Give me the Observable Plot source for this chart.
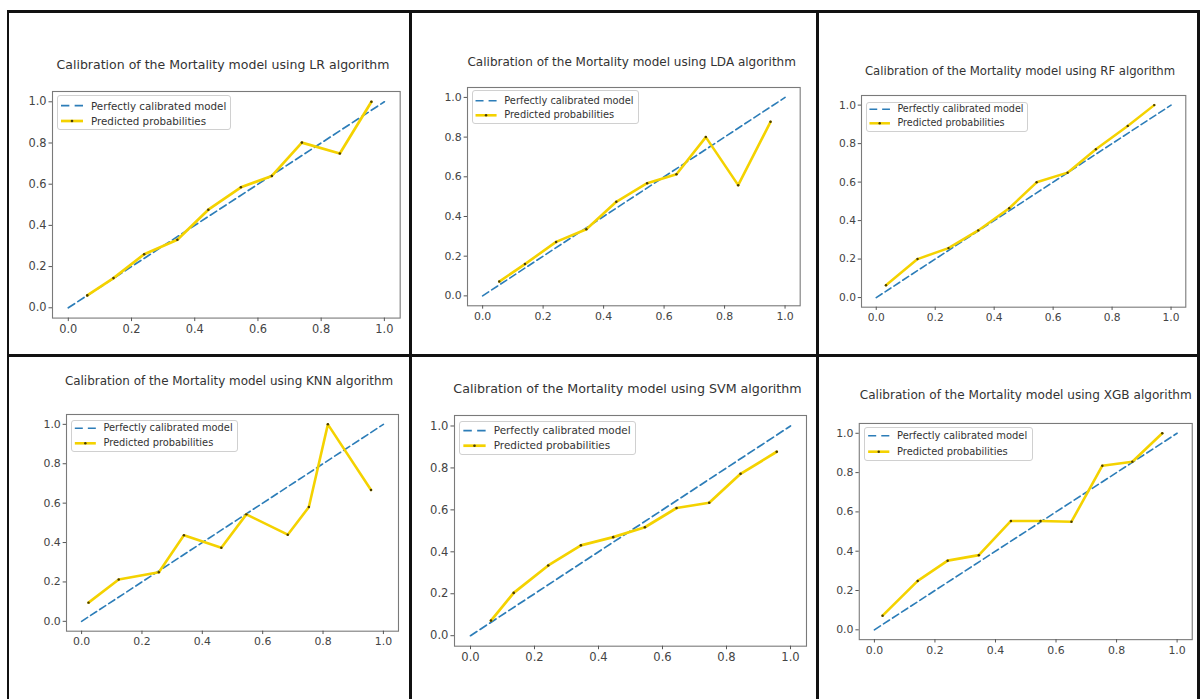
<!DOCTYPE html>
<html><head><meta charset="utf-8">
<script src="https://cdn.jsdelivr.net/npm/d3@7"></script>
<script src="https://cdn.jsdelivr.net/npm/@observablehq/plot@0.6"></script>
<style>
html,body{margin:0;padding:0;background:#fff;}
body{width:1200px;height:699px;overflow:hidden;position:relative;font-family:"DejaVu Sans",sans-serif;}
.ln{position:absolute;background:#111;}
.title{position:absolute;white-space:nowrap;color:#333;line-height:1;}
.legend{position:absolute;border:1px solid #d0d0d0;border-radius:3px;background:rgba(255,255,255,0.85);box-sizing:border-box;}
.ltext{position:absolute;white-space:nowrap;color:#333;line-height:1;}
.lsvg{position:absolute;overflow:visible;}
.plotbox{position:absolute;}
</style></head><body>
<script>
// ---- data ----
const models = ["LR", "LDA", "RF", "KNN", "SVM", "XGB"];
const titlePrefix = "Calibration of the Mortality model using ";
const titleSuffix = " algorithm";
const legendLabels = ["Perfectly calibrated model", "Predicted probabilities"];
const ticks = [0, 0.2, 0.4, 0.6, 0.8, 1.0];
const tickLabels = ["0.0", "0.2", "0.4", "0.6", "0.8", "1.0"];
const diagonalX = [0, 1];
const diagonalY = [0, 1];

const lrX  = [0.06, 0.143, 0.24, 0.345, 0.443, 0.546, 0.644, 0.739, 0.859, 0.959];
const lrY  = [0.06, 0.144, 0.26, 0.33, 0.476, 0.585, 0.64, 0.802, 0.749, 1.0];
const ldaX = [0.055, 0.14, 0.243, 0.343, 0.442, 0.544, 0.641, 0.738, 0.845, 0.952];
const ldaY = [0.072, 0.16, 0.272, 0.336, 0.474, 0.568, 0.613, 0.8, 0.558, 0.877];
const rfX  = [0.033, 0.14, 0.245, 0.346, 0.451, 0.544, 0.649, 0.745, 0.853, 0.943];
const rfY  = [0.064, 0.2, 0.257, 0.349, 0.464, 0.599, 0.649, 0.771, 0.892, 1.0];
const knnX = [0.023, 0.123, 0.256, 0.339, 0.463, 0.546, 0.683, 0.753, 0.816, 0.959];
const knnY = [0.095, 0.212, 0.249, 0.437, 0.374, 0.543, 0.44, 0.58, 1.0, 0.667];
const svmX = [0.064, 0.135, 0.243, 0.345, 0.446, 0.545, 0.644, 0.746, 0.844, 0.957];
const svmY = [0.072, 0.204, 0.335, 0.431, 0.47, 0.517, 0.609, 0.634, 0.772, 0.877];
const xgbX = [0.027, 0.143, 0.242, 0.345, 0.451, 0.549, 0.651, 0.753, 0.852, 0.951];
const xgbY = [0.072, 0.249, 0.352, 0.38, 0.554, 0.554, 0.55, 0.835, 0.855, 1.0];
const seriesX = [lrX, ldaX, rfX, knnX, svmX, xgbX];
const seriesY = [lrY, ldaY, rfY, knnY, svmY, xgbY];

// ---- layout (page pixels) ----
const layout = [
  {L:52.3, R:400, T:90.7, B:317.3, tx:223, ty:65, tw:333, lg:[57,95,231,130], e:[105.7,121]},
  {L:467.3, R:800, T:86.7, B:305, tx:631.7, ty:61.7, tw:328.7, lg:[471.7,90,639.3,124.3], e:[100.7,115.3]},
  {L:860.7, R:1185, T:95, B:306.7, tx:1020, ty:71.7, tw:310, lg:[865.7,101.7,1028.3,131.7], e:[109.3,123.3]},
  {L:65.7, R:397.7, T:414.3, B:631, tx:229, ty:381.7, tw:328.3, lg:[71,420,237.7,451.7], e:[428.3,443.3]},
  {L:454, R:806, T:415, B:645.7, tx:627.5, ty:389.3, tw:348.3, lg:[459.3,421,636,455], e:[430.7,445.7]},
  {L:859.3, R:1194, T:422.7, B:640, tx:1025.8, ty:395, tw:331.7, lg:[864.3,426.7,1033.3,461], e:[435.7,451.7]}
];
const gridLines = [
  {x:6.5, y:10, w:2.5, h:689}, {x:6.5, y:10, w:1193.5, h:2.5},
  {x:409.3, y:10, w:2.6, h:689}, {x:816, y:10, w:2.6, h:689},
  {x:1197, y:10, w:2.5, h:689}, {x:6.5, y:353.8, w:1193.5, h:2.8}
];
const C_DIAG = "#2c7db8", C_PRED = "#f4d200";

for (const g of gridLines) {
  const d = document.createElement("div");
  d.className = "ln";
  Object.assign(d.style, {left:g.x+"px", top:g.y+"px", width:g.w+"px", height:g.h+"px"});
  document.body.appendChild(d);
}

models.forEach((m, i) => {
  const P = layout[i];
  const unit = (P.R - P.L) / 1.1;
  const s = unit / 316;
  const fs = 10.3 * s;
  const tfs = 11.4 * s;
  const ml = 44, mr = 8, mt = 6, mb = 28;
  const pts = seriesX[i].map((x, k) => ({x, y: seriesY[i][k]}));
  const diag = diagonalX.map((x, k) => ({x, y: diagonalY[k]}));
  const fmt = d => tickLabels[ticks.findIndex(t => Math.abs(t - d) < 1e-9)];
  const chart = Plot.plot({
    width: (P.R - P.L) + ml + mr,
    height: (P.B - P.T) + mt + mb,
    marginLeft: ml, marginRight: mr, marginTop: mt, marginBottom: mb,
    x: {domain: [-0.05, 1.05]},
    y: {domain: [-0.05, 1.05]},
    style: {fontFamily: "DejaVu Sans", fontSize: tfs.toFixed(2) + "px", color: "#444", background: "transparent", overflow: "visible"},
    marks: [
      Plot.frame({stroke: "#7a7a7a", strokeWidth: 1.1}),
      Plot.axisX({ticks, tickFormat: fmt, tickSize: 3.5 * s, tickPadding: 3 * s, label: null, stroke: "#555", fontSize: tfs}),
      Plot.axisY({ticks, tickFormat: fmt, tickSize: 3.5 * s, tickPadding: 2.5 * s, label: null, stroke: "#555", fontSize: tfs}),
      Plot.line(diag, {x: "x", y: "y", stroke: C_DIAG, strokeWidth: 1.7 * s, strokeDasharray: `${7.5*s},${3.8*s}`}),
      Plot.line(pts, {x: "x", y: "y", stroke: C_PRED, strokeWidth: 2.7 * s, strokeLinejoin: "round"}),
      Plot.dot(pts, {x: "x", y: "y", r: 1.3 * s, fill: "#4a3c00", stroke: "none"})
    ]
  });
  const box = document.createElement("div");
  box.className = "plotbox";
  box.style.left = (P.L - ml) + "px";
  box.style.top = (P.T - mt) + "px";
  box.appendChild(chart);
  document.body.appendChild(box);

  // title
  const t = document.createElement("div");
  t.className = "title";
  t.textContent = titlePrefix + m + titleSuffix;
  t.style.fontSize = (12.4 * s) + "px";
  document.body.appendChild(t);
  let w = t.getBoundingClientRect().width;
  const f2 = 12.4 * s * P.tw / w;
  t.style.fontSize = f2 + "px";
  w = t.getBoundingClientRect().width;
  const h = t.getBoundingClientRect().height;
  t.style.left = (P.tx - w / 2) + "px";
  t.style.top = (P.ty - h / 2) + "px";

  // legend
  const [lx0, ly0, lx1, ly1] = P.lg;
  const lg = document.createElement("div");
  lg.className = "legend";
  Object.assign(lg.style, {left: lx0 + "px", top: ly0 + "px", width: (lx1 - lx0) + "px", height: (ly1 - ly0) + "px"});
  document.body.appendChild(lg);
  const hx0 = lx0 + 4 * s, hx1 = lx0 + 26 * s, tx = lx0 + 34 * s;
  const hl = hx1 - hx0;
  const ns = "http://www.w3.org/2000/svg";
  const sv = document.createElementNS(ns, "svg");
  sv.setAttribute("class", "lsvg");
  sv.setAttribute("width", 1200); sv.setAttribute("height", 699);
  sv.style.left = "0px"; sv.style.top = "0px";
  sv.style.position = "absolute";
  sv.innerHTML =
    `<line x1="${hx0}" x2="${hx1}" y1="${P.e[0]}" y2="${P.e[0]}" stroke="${C_DIAG}" stroke-width="${1.7*s}" stroke-dasharray="${hl*0.38},${hl*0.24}"/>` +
    `<line x1="${hx0}" x2="${hx1}" y1="${P.e[1]}" y2="${P.e[1]}" stroke="${C_PRED}" stroke-width="${2.7*s}"/>` +
    `<circle cx="${(hx0+hx1)/2}" cy="${P.e[1]}" r="${1.3*s}" fill="#4a3c00"/>`;
  document.body.appendChild(sv);
  legendLabels.forEach((lab, k) => {
    const d = document.createElement("div");
    d.className = "ltext";
    d.textContent = lab;
    d.style.fontSize = fs + "px";
    document.body.appendChild(d);
    const hh = d.getBoundingClientRect().height;
    d.style.left = tx + "px";
    d.style.top = (P.e[k] - hh / 2) + "px";
  });
});
</script>
</body></html>
